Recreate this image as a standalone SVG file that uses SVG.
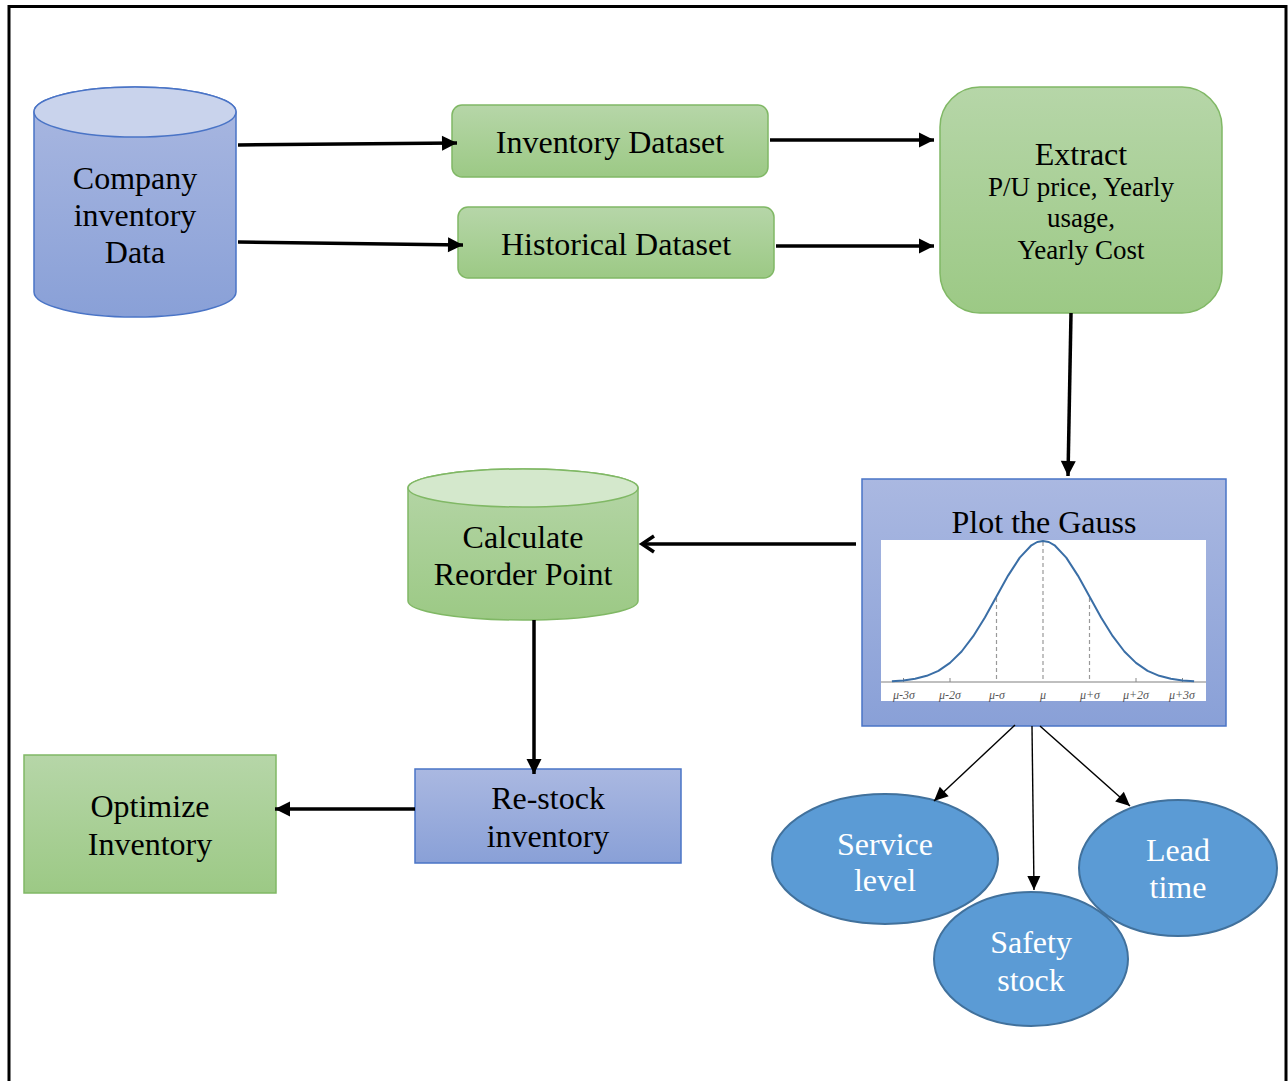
<svg xmlns="http://www.w3.org/2000/svg" width="1288" height="1081" viewBox="0 0 1288 1081">
<defs>
<linearGradient id="gGreen" x1="0" y1="0" x2="0" y2="1"><stop offset="0" stop-color="#b6d6a8"/><stop offset="1" stop-color="#9cc985"/></linearGradient>
<linearGradient id="gBlue" x1="0" y1="0" x2="0" y2="1"><stop offset="0" stop-color="#aab8e1"/><stop offset="1" stop-color="#89a0d7"/></linearGradient>
<marker id="ah" markerUnits="userSpaceOnUse" markerWidth="16" markerHeight="16" refX="15" refY="7.5" orient="auto" overflow="visible"><path d="M0,0 L15,7.5 L0,15 z" fill="#000"/></marker>
<marker id="ahs" markerUnits="userSpaceOnUse" markerWidth="16" markerHeight="16" refX="14" refY="6.5" orient="auto" overflow="visible"><path d="M0,0 L14,6.5 L0,13 z" fill="#000"/></marker>
<marker id="aho" markerUnits="userSpaceOnUse" markerWidth="16" markerHeight="20" refX="13" refY="9" orient="auto" overflow="visible"><path d="M1,1 L13,9 L1,17" fill="none" stroke="#000" stroke-width="3.5"/></marker>
</defs>
<style>
.t{font-family:"Liberation Serif","Times New Roman",serif;fill:#000;text-anchor:middle}
.w{font-family:"Liberation Serif","Times New Roman",serif;fill:#fff;text-anchor:middle}
.gb{fill:url(#gGreen);stroke:#80b865;stroke-width:1.5}
.bb{fill:url(#gBlue);stroke:#4a74c6;stroke-width:1.5}
.el{fill:#5b9bd5;stroke:#41719c;stroke-width:2}
.thick{stroke:#000;stroke-width:3.5;fill:none}
.thin{stroke:#000;stroke-width:1.4;fill:none}
</style>
<rect x="0" y="0" width="1288" height="1081" fill="#fff"/>
<rect x="9" y="6.5" width="1277" height="1110" fill="none" stroke="#000" stroke-width="3"/>

<g id="company">
<path class="bb" d="M34,112 L34,292 A101,25 0 0 0 236,292 L236,112 A101,25 0 0 0 34,112 z"/>
<ellipse cx="135" cy="112" rx="101" ry="25" fill="#c9d3ec" stroke="#4a74c6" stroke-width="1.5"/>
<text class="t" font-size="32" x="135" y="189">Company</text>
<text class="t" font-size="32" x="135" y="226">inventory</text>
<text class="t" font-size="32" x="135" y="263">Data</text>
</g>

<g id="inventory">
<rect class="gb" x="452" y="105" width="316" height="72" rx="10"/>
<text class="t" font-size="32" x="610" y="153">Inventory Dataset</text>
</g>

<g id="historical">
<rect class="gb" x="458" y="207" width="316" height="71" rx="10"/>
<text class="t" font-size="32" x="616" y="255">Historical Dataset</text>
</g>

<g id="extract">
<rect class="gb" x="940" y="87" width="282" height="226" rx="40"/>
<text class="t" font-size="32" x="1081" y="165">Extract</text>
<text class="t" font-size="27" x="1081" y="196">P/U price, Yearly</text>
<text class="t" font-size="27" x="1081" y="227">usage,</text>
<text class="t" font-size="27" x="1081" y="259">Yearly Cost</text>
</g>

<g id="gauss">
<rect class="bb" x="862" y="479" width="364" height="247"/>
<text class="t" font-size="32" x="1044" y="533">Plot the Gauss</text>
<rect x="881" y="540" width="325" height="161" fill="#fff"/>
<line x1="881" y1="682" x2="1206" y2="682" stroke="#aaa" stroke-width="1.5"/>
<g stroke="#888" stroke-width="1">
<line x1="950" y1="678" x2="950" y2="682"/><line x1="1136" y1="678" x2="1136" y2="682"/>
<line x1="903.5" y1="678" x2="903.5" y2="682"/><line x1="1182.5" y1="678" x2="1182.5" y2="682"/>
</g>
<g stroke="#999" stroke-width="1.2" stroke-dasharray="4,3">
<line x1="1043" y1="542" x2="1043" y2="682"/>
<line x1="996.5" y1="598" x2="996.5" y2="682"/>
<line x1="1089.5" y1="598" x2="1089.5" y2="682"/>
</g>
<polyline fill="none" stroke="#3a6ea6" stroke-width="2" stroke-linejoin="round" points="891.9,681.3 903.5,680.4 915.1,678.8 926.75,675.8 938.4,670.8 950,662.9 961.6,651.5 973.25,636.2 984.9,617.5 996.5,596.5 1008.1,575.6 1019.75,557.6 1031.4,545.3 1037.2,542 1043,541 1048.8,542 1054.6,545.3 1066.25,557.6 1077.9,575.6 1089.5,596.5 1101.1,617.5 1112.75,636.2 1124.4,651.5 1136,662.9 1147.6,670.8 1159.25,675.8 1170.9,678.8 1182.5,680.4 1194.1,681.3"/>
<g font-family="Liberation Serif,serif" font-style="italic" font-size="12" fill="#555" text-anchor="middle">
<text x="904" y="699">μ-3σ</text><text x="950" y="699">μ-2σ</text><text x="997" y="699">μ-σ</text><text x="1043" y="699">μ</text><text x="1090" y="699">μ+σ</text><text x="1136" y="699">μ+2σ</text><text x="1182" y="699">μ+3σ</text>
</g>
</g>

<g id="reorder">
<path class="gb" d="M408,488 L408,601 A115,19 0 0 0 638,601 L638,488 A115,19 0 0 0 408,488 z"/>
<ellipse cx="523" cy="488" rx="115" ry="19" fill="#d4e8cc" stroke="#80b865" stroke-width="1.5"/>
<text class="t" font-size="32" x="523" y="548">Calculate</text>
<text class="t" font-size="32" x="523" y="585">Reorder Point</text>
</g>

<g id="restock">
<rect class="bb" x="415" y="769" width="266" height="94"/>
<text class="t" font-size="32" x="548" y="809">Re-stock</text>
<text class="t" font-size="32" x="548" y="847">inventory</text>
</g>

<g id="optimize">
<rect class="gb" x="24" y="755" width="252" height="138"/>
<text class="t" font-size="32" x="150" y="817">Optimize</text>
<text class="t" font-size="32" x="150" y="855">Inventory</text>
</g>

<g id="service">
<ellipse class="el" cx="885" cy="859" rx="113" ry="65"/>
<text class="w" font-size="32" x="885" y="855">Service</text>
<text class="w" font-size="32" x="885" y="891">level</text>
</g>

<g id="lead">
<ellipse class="el" cx="1178" cy="868" rx="99" ry="68"/>
<text class="w" font-size="32" x="1178" y="861">Lead</text>
<text class="w" font-size="32" x="1178" y="898">time</text>
</g>

<g id="safety">
<ellipse class="el" cx="1031" cy="959" rx="97" ry="67"/>
<text class="w" font-size="32" x="1031" y="953">Safety</text>
<text class="w" font-size="32" x="1031" y="991">stock</text>
</g>

<g id="connectors">
<line class="thick" x1="238" y1="145" x2="457" y2="143" marker-end="url(#ah)"/>
<line class="thick" x1="238" y1="242" x2="463" y2="245" marker-end="url(#ah)"/>
<line class="thick" x1="770" y1="140" x2="934" y2="140" marker-end="url(#ah)"/>
<line class="thick" x1="776" y1="246" x2="934" y2="246" marker-end="url(#ah)"/>
<line class="thick" x1="1071" y1="313" x2="1068" y2="476" marker-end="url(#ah)"/>
<line class="thick" x1="856" y1="544" x2="642" y2="544" marker-end="url(#aho)"/>
<line class="thick" x1="534" y1="620" x2="534" y2="774" marker-end="url(#ah)"/>
<line class="thick" x1="415" y1="809" x2="275" y2="809" marker-end="url(#ah)"/>
<line class="thin" x1="1015" y1="725" x2="934" y2="801" marker-end="url(#ahs)"/>
<line class="thin" x1="1032" y1="726" x2="1034" y2="890" marker-end="url(#ahs)"/>
<line class="thin" x1="1040" y1="726" x2="1130" y2="806" marker-end="url(#ahs)"/>
</g>
</svg>
